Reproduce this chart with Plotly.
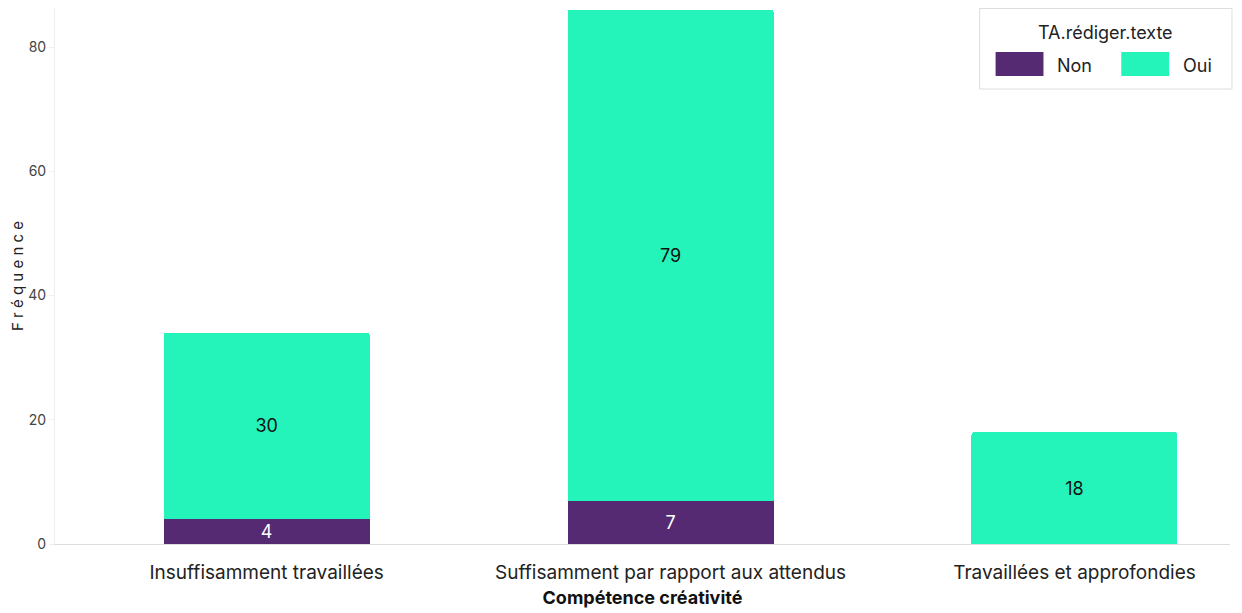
import plotly.graph_objects as go

categories = ["Insuffisamment travaillées", "Suffisamment par rapport aux attendus", "Travaillées et approfondies"]
series_names = ["Non", "Oui"]
non_values = [4, 7, None]
oui_values = [30, 79, 18]
y_ticks = [0, 20, 40, 60, 80]
legend_title = "TA.rédiger.texte"

PURPLE = "#562A72"
TEAL = "#24F4BA"
FONT = "Inter"

# page body has an 8px margin; plot-area geometry in figure pixels
ML, MR, MT, MB = 44, 20, 0, 77
W, H = 1242, 613
PW, PH = W - ML - MR, H - MT - MB


def px(fx):  # figure x pixel -> paper
    return (fx - ML) / PW


def py(fy):  # figure y pixel (from top) -> paper
    return (H - MB - fy) / PH


fig = go.Figure()
fig.add_trace(go.Bar(
    x=list(range(len(categories))), y=non_values, name=series_names[0],
    marker=dict(color=PURPLE, line=dict(width=0)),
    text=[str(v) if v else "" for v in non_values],
    textposition="inside", insidetextanchor="middle", textangle=0,
    textfont=dict(color="white", size=18, family=FONT),
    constraintext="none", showlegend=False, cliponaxis=False,
))
fig.add_trace(go.Bar(
    x=list(range(len(categories))), y=oui_values, name=series_names[1],
    marker=dict(color=TEAL, line=dict(width=0)),
    text=[str(v) for v in oui_values],
    textposition="inside", insidetextanchor="middle", textangle=0,
    textfont=dict(color="#111111", size=18, family=FONT),
    constraintext="none", showlegend=False, cliponaxis=False,
))

# custom legend (box, title, swatches, labels)
shapes = [dict(type="rect", xref="paper", yref="paper",
               x0=px(971), x1=px(1224), y0=py(81), y1=py(0.5),
               line=dict(color="#DDDDDD", width=1), fillcolor="white", layer="above")]
annotations = [dict(text=legend_title, xref="paper", yref="paper", x=px(1097), y=py(24),
                    xanchor="center", yanchor="middle", showarrow=False,
                    font=dict(family=FONT, size=18, color="#222"))]
for i, (name, col) in enumerate(zip(series_names, [PURPLE, TEAL])):
    sx = 987 + i * 126
    shapes.append(dict(type="rect", xref="paper", yref="paper",
                       x0=px(sx), x1=px(sx + 48), y0=py(68), y1=py(44),
                       line=dict(width=0), fillcolor=col, layer="above"))
    annotations.append(dict(text=name, xref="paper", yref="paper", x=px(sx + 60), y=py(57),
                            xanchor="left", yanchor="middle", showarrow=False,
                            font=dict(family=FONT, size=18, color="#222")))

fig.update_layout(
    width=W, height=H,
    barmode="stack", bargap=0.49, barcornerradius=3,
    paper_bgcolor="white", plot_bgcolor="white",
    margin=dict(l=ML, r=MR, t=MT, b=MB),
    font=dict(family=FONT, color="#222222"),
    showlegend=False,
    shapes=shapes, annotations=annotations,
    xaxis=dict(
        tickmode="array", tickvals=list(range(len(categories))), ticktext=categories,
        range=[-0.524, 2.385], showgrid=False, zeroline=False,
        showline=True, linecolor="#DDDDDD", linewidth=1,
        ticks="outside", ticklen=11, tickcolor="rgba(0,0,0,0)",
        tickfont=dict(size=19, color="#222"),
        title=dict(text="<b>Compétence créativité</b>", font=dict(size=18, color="#111"), standoff=8),
    ),
    yaxis=dict(
        range=[0, PH / 6.2125], tickvals=y_ticks, showgrid=False, zeroline=False,
        showline=True, linecolor="#EEEEEE", linewidth=1,
        ticks="outside", ticklen=5, tickcolor="#EEEEEE",
        tickfont=dict(size=14, color="#444"),
        title=dict(text="F r é q u e n c e", font=dict(size=15, color="#222"), standoff=10),
    ),
)

fig.write_html("out.html")
